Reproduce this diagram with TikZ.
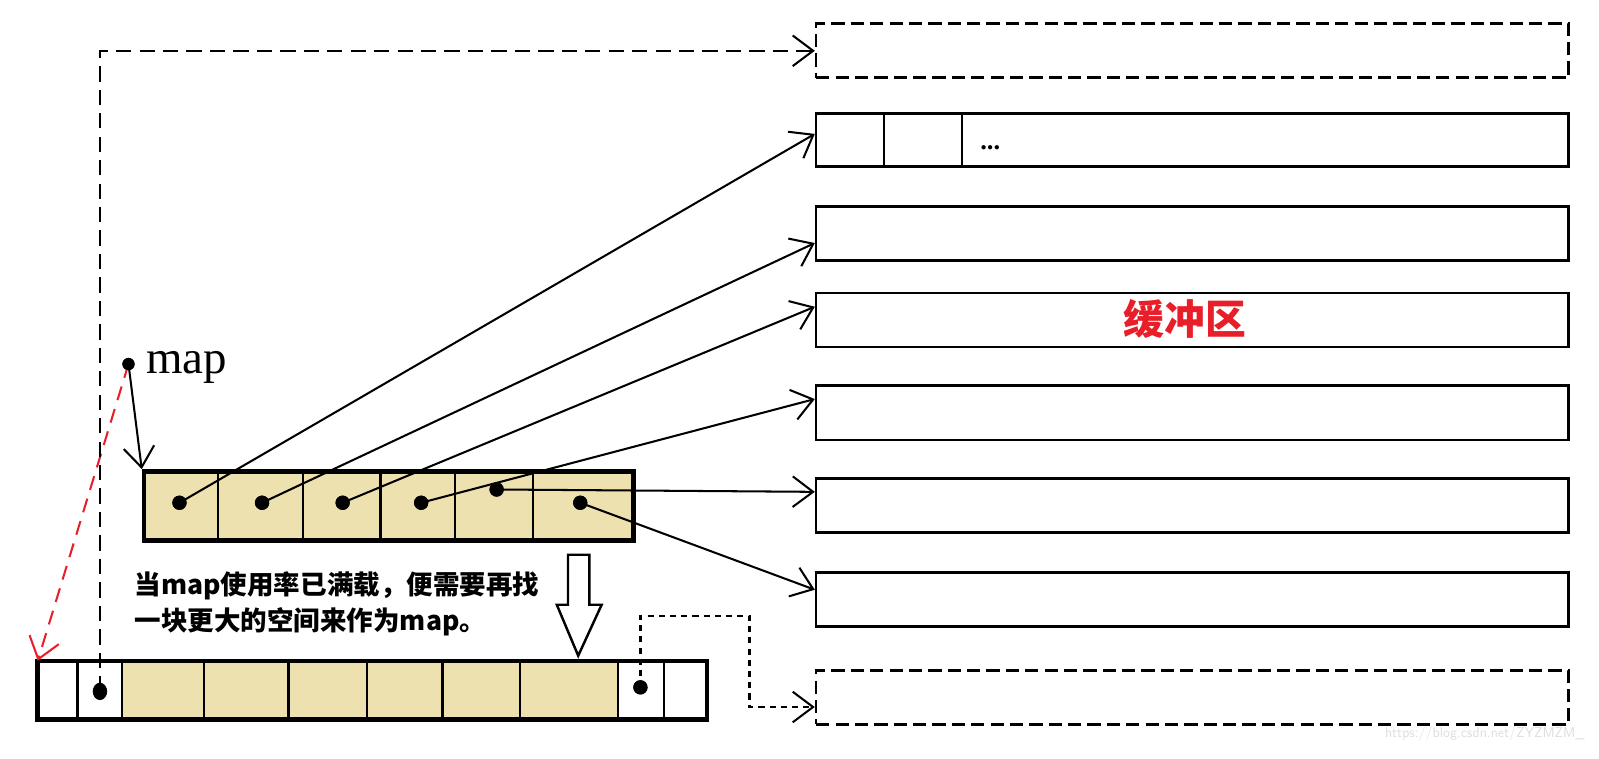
\documentclass[tikz,border=0pt]{standalone}
\usepackage{fontspec}
\setmainfont{Liberation Serif}
\newfontfamily\cjk{Noto Sans CJK SC}
\usetikzlibrary{arrows.meta}
\definecolor{mapfill}{RGB}{238,225,176}
\definecolor{bufred}{RGB}{232,30,40}
\tikzset{
  buf/.style={draw, line width=2.6pt, minimum width=738pt, minimum height=53pt, anchor=north west, inner sep=0pt},
  dbuf/.style={buf, dash pattern=on 13pt off 6pt},
  conn/.style={line width=2pt, -{Straight Barb[length=20pt,width=30pt,line width=2pt]}},
  dotn/.style={circle, fill=black, inner sep=0pt, minimum size=14pt},
  cellline/.style={line width=2.2pt},
  arrbox/.style={draw, line width=4.5pt, fill=mapfill, anchor=north west, inner sep=0pt},
}
\begin{document}
\begin{tikzpicture}[x=1pt,y=-1pt]
\fill[white] (0,0) rectangle (1568,744);
\useasboundingbox (0,0) rectangle (1568,744);
% buffers
\node[dbuf] (b1) at (799,22) {};
\node[buf, minimum height=52pt] (b2) at (799,110) {};
\node[buf] (b3) at (799,201) {};
\node[buf] (b4) at (799,286) {};
\node[buf] (b5) at (799,377) {};
\node[buf] (b6) at (799,468) {};
\node[buf] (b7) at (799,560) {};
\node[dbuf] (b8) at (799,656) {};
\draw[cellline] (867,110) -- (867,162);
\draw[cellline] (943,110) -- (943,162);
\node[font=\bfseries\fontsize{26}{26}\selectfont, inner sep=0pt] (dots) at (971,145) {...};
\node[font=\cjk\bfseries\fontsize{40}{40}\selectfont, text=bufred, inner sep=0pt] (lbl) at (1162,313) {缓冲区};
% map array
\node[arrbox, minimum width=480pt, minimum height=68pt] (arr) at (139,460) {};
\foreach \x in {214,297,373,446,523} \draw[cellline] (\x,460) -- (\x,528);
% new array
\node[fill=white, anchor=north west, inner sep=0pt, minimum width=656pt, minimum height=57pt] (arr2) at (37,648) {};
\fill[mapfill] (120,648) rectangle (606,705);
\foreach \x in {76,120,200,283,360,434,510,606,651} \draw[cellline] (\x,648) -- (\x,705);
\draw[line width=4.5pt] (arr2.north west) rectangle (arr2.south east);
% dots
\node[dotn] (m1) at (176,493) {};
\node[dotn] (m2) at (257,493) {};
\node[dotn] (m3) at (336,493) {};
\node[dotn] (m4) at (413,493) {};
\node[dotn] (m5) at (487,480) {};
\node[dotn] (m6) at (569,493) {};
\node[dotn, minimum size=12pt] (mapdot) at (126,357) {};
\node[dotn] (n1) at (98,678) {};
\node[dotn] (n2) at (628,674) {};
\coordinate (c1) at (735,604);
% connectors
\draw[conn] (m1.center) -- ([yshift=6pt]b2.west);
\draw[conn] (m2.center) -- ([yshift=-9.5pt]b3.west);
\draw[conn] (m3.center) -- ([yshift=13pt]b4.west);
\draw[conn] (m4.center) -- ([yshift=13.5pt]b5.west);
\draw[conn] (m5.center) -- ([yshift=13.5pt]b6.west);
\draw[conn] (m6.center) -- ([yshift=9.5pt]b7.west);
\draw[conn] (mapdot.center) -- (arr.north west);
\draw[conn, bufred, dash pattern=on 14pt off 9pt] (mapdot.center) -- (arr2.north west);
\draw[conn, line width=2.4pt, dash pattern=on 15pt off 8pt] (n1.center) |- (b1.west);
\draw[conn, line width=2.4pt, dash pattern=on 6pt off 5pt] (n2.center) |- (c1) |- ([yshift=-9.5pt]b8.west);
% redraw dots on top
\foreach \p in {m1,m2,m3,m4,m5,m6,n2} \fill (\p) circle (7pt);
\fill (mapdot) circle (6pt);
\fill (n1) ellipse (7pt and 8.5pt);
% block arrow
\draw[line width=2.4pt, fill=white] (557,544) -- (578,544) -- (578,593) -- (590,593) -- (567,643) -- (546,593) -- (557,593) -- cycle;
% texts
\node[anchor=base west, inner sep=0pt, font=\fontsize{46}{46}\selectfont] (maplbl) at (143,366) {map};
\node[anchor=west, inner sep=0pt, align=left, font=\cjk\bfseries\fontsize{26}{36}\selectfont] (note) at (132,592) {当map使用率已满载，便需要再找\\一块更大的空间来作为map。};
\node[inner sep=0pt, text=black!13, font=\sffamily\fontsize{14}{14}\selectfont] (wm) at (1456,720) {https://blog.csdn.net/ZYZMZM\_};
\end{tikzpicture}
\end{document}
